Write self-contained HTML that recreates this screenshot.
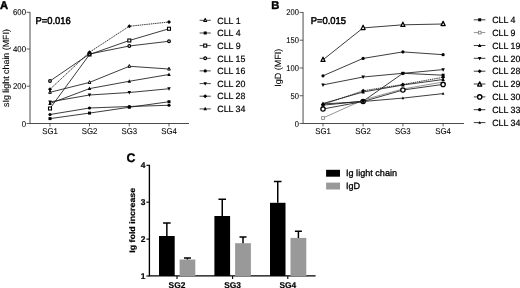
<!DOCTYPE html>
<html><head><meta charset="utf-8"><title>Figure</title>
<style>
html,body{margin:0;padding:0;background:#fff;}
body{width:520px;height:288px;overflow:hidden;font-family:"Liberation Sans",sans-serif;}
svg{display:block;}
</style></head><body>
<svg width="520" height="288" viewBox="0 0 520 288">
<defs><filter id="nf" x="0" y="0" width="520" height="288" filterUnits="userSpaceOnUse"><feOffset dx="0" dy="0"/></filter></defs>
<rect width="520" height="288" fill="#fff"/>
<g filter="url(#nf)" text-rendering="geometricPrecision">
<text x="0.0" y="8.5" font-family="Liberation Sans, sans-serif" font-size="11.2" text-anchor="start" font-weight="bold" stroke="#000" stroke-width="0.45" fill="#000">A</text>
<path d="M30.0 12 V123.5 H189" fill="none" stroke="#383838" stroke-width="0.9"/>
<path d="M26.6 12.3 H30.0" stroke="#383838" stroke-width="0.8"/>
<text x="26.0" y="15.3" font-family="Liberation Sans, sans-serif" font-size="8.4" text-anchor="end" stroke="#000" stroke-width="0.1" textLength="13.03" lengthAdjust="spacingAndGlyphs" fill="#000">600</text>
<path d="M26.6 49.0 H30.0" stroke="#383838" stroke-width="0.8"/>
<text x="26.0" y="52.0" font-family="Liberation Sans, sans-serif" font-size="8.4" text-anchor="end" stroke="#000" stroke-width="0.1" textLength="13.03" lengthAdjust="spacingAndGlyphs" fill="#000">400</text>
<path d="M26.6 86.2 H30.0" stroke="#383838" stroke-width="0.8"/>
<text x="26.0" y="89.2" font-family="Liberation Sans, sans-serif" font-size="8.4" text-anchor="end" stroke="#000" stroke-width="0.1" textLength="13.03" lengthAdjust="spacingAndGlyphs" fill="#000">200</text>
<path d="M26.6 123.5 H30.0" stroke="#383838" stroke-width="0.8"/>
<text x="26.0" y="126.5" font-family="Liberation Sans, sans-serif" font-size="8.4" text-anchor="end" stroke="#000" stroke-width="0.1" textLength="4.34" lengthAdjust="spacingAndGlyphs" fill="#000">0</text>
<path d="M50.0 123.5 V126.4" stroke="#383838" stroke-width="0.8"/>
<text x="50.0" y="134.2" font-family="Liberation Sans, sans-serif" font-size="8.4" text-anchor="middle" stroke="#000" stroke-width="0.1" textLength="15.6" lengthAdjust="spacingAndGlyphs" fill="#000">SG1</text>
<path d="M89.5 123.5 V126.4" stroke="#383838" stroke-width="0.8"/>
<text x="89.5" y="134.2" font-family="Liberation Sans, sans-serif" font-size="8.4" text-anchor="middle" stroke="#000" stroke-width="0.1" textLength="15.6" lengthAdjust="spacingAndGlyphs" fill="#000">SG2</text>
<path d="M129.3 123.5 V126.4" stroke="#383838" stroke-width="0.8"/>
<text x="129.3" y="134.2" font-family="Liberation Sans, sans-serif" font-size="8.4" text-anchor="middle" stroke="#000" stroke-width="0.1" textLength="15.6" lengthAdjust="spacingAndGlyphs" fill="#000">SG3</text>
<path d="M169.0 123.5 V126.4" stroke="#383838" stroke-width="0.8"/>
<text x="169.0" y="134.2" font-family="Liberation Sans, sans-serif" font-size="8.4" text-anchor="middle" stroke="#000" stroke-width="0.1" textLength="15.6" lengthAdjust="spacingAndGlyphs" fill="#000">SG4</text>
<text x="8.9" y="68.0" font-family="Liberation Sans, sans-serif" font-size="8.9" text-anchor="middle" stroke="#000" stroke-width="0.1" transform="rotate(-90 8.9 68.0)" fill="#000">sIg light chain (MFI)</text>
<text x="35.5" y="23.5" font-family="Liberation Sans, sans-serif" font-size="9.9" text-anchor="start" stroke="#000" stroke-width="0.5" textLength="35.2" lengthAdjust="spacingAndGlyphs" fill="#000">P=0.016</text>
<polyline points="50.00,92.30 89.50,82.40 129.30,66.25 169.00,69.00" fill="none" stroke="#1a1a1a" stroke-width="0.85"/>
<polyline points="50.00,118.60 89.50,113.10 129.30,107.25 169.00,101.75" fill="none" stroke="#1a1a1a" stroke-width="0.85"/>
<polyline points="50.00,108.50 89.50,54.50 129.30,40.50 169.00,28.75" fill="none" stroke="#1a1a1a" stroke-width="0.85"/>
<polyline points="50.00,81.00 89.50,54.00 129.30,46.00 169.00,41.25" fill="none" stroke="#1a1a1a" stroke-width="0.85"/>
<polyline points="50.00,114.50 89.50,108.00 129.30,106.50 169.00,105.25" fill="none" stroke="#1a1a1a" stroke-width="0.85"/>
<polyline points="50.00,101.90 89.50,95.00 129.30,92.50 169.00,88.75" fill="none" stroke="#1a1a1a" stroke-width="0.85"/>
<polyline points="50.00,89.30 89.50,52.20 129.30,26.25 169.00,22.00" fill="none" stroke="#1a1a1a" stroke-width="0.85" stroke-dasharray="1.5 0.7"/>
<polyline points="50.00,103.50 89.50,88.60 129.30,81.25 169.00,74.50" fill="none" stroke="#1a1a1a" stroke-width="0.85"/>
<path d="M50.00 90.57L51.33 93.37L48.67 93.37Z" fill="#fff" stroke="#000" stroke-width="1.00" stroke-linejoin="round"/>
<path d="M89.50 80.67L90.83 83.47L88.17 83.47Z" fill="#fff" stroke="#000" stroke-width="1.00" stroke-linejoin="round"/>
<path d="M129.30 64.52L130.63 67.32L127.97 67.32Z" fill="#fff" stroke="#000" stroke-width="1.00" stroke-linejoin="round"/>
<path d="M169.00 67.27L170.33 70.07L167.67 70.07Z" fill="#fff" stroke="#000" stroke-width="1.00" stroke-linejoin="round"/>
<rect x="48.50" y="117.10" width="3.00" height="3.00" fill="#000"/>
<rect x="88.00" y="111.60" width="3.00" height="3.00" fill="#000"/>
<rect x="127.80" y="105.75" width="3.00" height="3.00" fill="#000"/>
<rect x="167.50" y="100.25" width="3.00" height="3.00" fill="#000"/>
<rect x="48.50" y="107.00" width="3.00" height="3.00" fill="#fff" stroke="#000" stroke-width="1.1"/>
<rect x="88.00" y="53.00" width="3.00" height="3.00" fill="#fff" stroke="#000" stroke-width="1.1"/>
<rect x="127.80" y="39.00" width="3.00" height="3.00" fill="#fff" stroke="#000" stroke-width="1.1"/>
<rect x="167.50" y="27.25" width="3.00" height="3.00" fill="#fff" stroke="#000" stroke-width="1.1"/>
<circle cx="50.00" cy="81.00" r="1.35" fill="#fff" stroke="#000" stroke-width="1.2"/>
<circle cx="89.50" cy="54.00" r="1.35" fill="#fff" stroke="#000" stroke-width="1.2"/>
<circle cx="129.30" cy="46.00" r="1.35" fill="#fff" stroke="#000" stroke-width="1.2"/>
<circle cx="169.00" cy="41.25" r="1.35" fill="#fff" stroke="#000" stroke-width="1.2"/>
<circle cx="50.00" cy="114.50" r="1.60" fill="#000"/>
<circle cx="89.50" cy="108.00" r="1.60" fill="#000"/>
<circle cx="129.30" cy="106.50" r="1.60" fill="#000"/>
<circle cx="169.00" cy="105.25" r="1.60" fill="#000"/>
<path d="M50.00 104.00L51.75 100.50L48.25 100.50Z" fill="#000"/>
<path d="M89.50 97.10L91.25 93.60L87.75 93.60Z" fill="#000"/>
<path d="M129.30 94.60L131.05 91.10L127.55 91.10Z" fill="#000"/>
<path d="M169.00 90.85L170.75 87.35L167.25 87.35Z" fill="#000"/>
<path d="M50.00 87.30L52.00 89.30L50.00 91.30L48.00 89.30Z" fill="#000"/>
<path d="M89.50 50.20L91.50 52.20L89.50 54.20L87.50 52.20Z" fill="#000"/>
<path d="M129.30 24.25L131.30 26.25L129.30 28.25L127.30 26.25Z" fill="#000"/>
<path d="M169.00 20.00L171.00 22.00L169.00 24.00L167.00 22.00Z" fill="#000"/>
<path d="M50.00 101.40L51.75 104.90L48.25 104.90Z" fill="#000"/>
<path d="M89.50 86.50L91.25 90.00L87.75 90.00Z" fill="#000"/>
<path d="M129.30 79.15L131.05 82.65L127.55 82.65Z" fill="#000"/>
<path d="M169.00 72.40L170.75 75.90L167.25 75.90Z" fill="#000"/>
<path d="M199.6 20.3 H210.8" stroke="#1a1a1a" stroke-width="0.8"/>
<path d="M205.20 18.41L206.65 21.46L203.75 21.46Z" fill="#fff" stroke="#000" stroke-width="1.05" stroke-linejoin="round"/>
<text x="217.3" y="23.5" font-family="Liberation Sans, sans-serif" font-size="9.0" text-anchor="start" stroke="#000" stroke-width="0.2" textLength="23.29" lengthAdjust="spacingAndGlyphs" fill="#000">CLL 1</text>
<path d="M199.6 33.0 H210.8" stroke="#1a1a1a" stroke-width="0.8"/>
<rect x="203.70" y="31.50" width="3.00" height="3.00" fill="#000"/>
<text x="217.3" y="36.2" font-family="Liberation Sans, sans-serif" font-size="9.0" text-anchor="start" stroke="#000" stroke-width="0.2" textLength="23.29" lengthAdjust="spacingAndGlyphs" fill="#000">CLL 4</text>
<path d="M199.6 45.6 H210.8" stroke="#1a1a1a" stroke-width="0.8"/>
<rect x="203.70" y="44.10" width="3.00" height="3.00" fill="#fff" stroke="#000" stroke-width="1.1"/>
<text x="217.3" y="48.800000000000004" font-family="Liberation Sans, sans-serif" font-size="9.0" text-anchor="start" stroke="#000" stroke-width="0.2" textLength="23.29" lengthAdjust="spacingAndGlyphs" fill="#000">CLL 9</text>
<path d="M199.6 58.3 H210.8" stroke="#1a1a1a" stroke-width="0.8"/>
<circle cx="205.20" cy="58.30" r="1.35" fill="#fff" stroke="#000" stroke-width="1.2"/>
<text x="217.3" y="61.5" font-family="Liberation Sans, sans-serif" font-size="9.0" text-anchor="start" stroke="#000" stroke-width="0.2" textLength="28.15" lengthAdjust="spacingAndGlyphs" fill="#000">CLL 15</text>
<path d="M199.6 70.9 H210.8" stroke="#1a1a1a" stroke-width="0.8"/>
<circle cx="205.20" cy="70.90" r="1.60" fill="#000"/>
<text x="217.3" y="74.10000000000001" font-family="Liberation Sans, sans-serif" font-size="9.0" text-anchor="start" stroke="#000" stroke-width="0.2" textLength="28.15" lengthAdjust="spacingAndGlyphs" fill="#000">CLL 16</text>
<path d="M199.6 83.6 H210.8" stroke="#1a1a1a" stroke-width="0.8"/>
<path d="M205.20 85.70L206.95 82.20L203.45 82.20Z" fill="#000"/>
<text x="217.3" y="86.8" font-family="Liberation Sans, sans-serif" font-size="9.0" text-anchor="start" stroke="#000" stroke-width="0.2" textLength="28.15" lengthAdjust="spacingAndGlyphs" fill="#000">CLL 20</text>
<path d="M199.6 96.2 H210.8" stroke="#1a1a1a" stroke-width="0.8"/>
<path d="M205.20 94.20L207.20 96.20L205.20 98.20L203.20 96.20Z" fill="#000"/>
<text x="217.3" y="99.4" font-family="Liberation Sans, sans-serif" font-size="9.0" text-anchor="start" stroke="#000" stroke-width="0.2" textLength="28.15" lengthAdjust="spacingAndGlyphs" fill="#000">CLL 28</text>
<path d="M199.6 108.9 H210.8" stroke="#1a1a1a" stroke-width="0.8"/>
<path d="M205.20 106.80L206.95 110.30L203.45 110.30Z" fill="#000"/>
<text x="217.3" y="112.10000000000001" font-family="Liberation Sans, sans-serif" font-size="9.0" text-anchor="start" stroke="#000" stroke-width="0.2" textLength="28.15" lengthAdjust="spacingAndGlyphs" fill="#000">CLL 34</text>
<text x="271.3" y="8.6" font-family="Liberation Sans, sans-serif" font-size="11.2" text-anchor="start" font-weight="bold" stroke="#000" stroke-width="0.45" fill="#000">B</text>
<path d="M303.05 12 V123.5 H464" fill="none" stroke="#383838" stroke-width="0.9"/>
<path d="M299.6 12.44 H303.05" stroke="#383838" stroke-width="0.8"/>
<text x="298.9" y="15.439999999999998" font-family="Liberation Sans, sans-serif" font-size="8.4" text-anchor="end" stroke="#000" stroke-width="0.1" textLength="12.61" lengthAdjust="spacingAndGlyphs" fill="#000">200</text>
<path d="M299.6 40.20 H303.05" stroke="#383838" stroke-width="0.8"/>
<text x="298.9" y="43.205" font-family="Liberation Sans, sans-serif" font-size="8.4" text-anchor="end" stroke="#000" stroke-width="0.1" textLength="12.61" lengthAdjust="spacingAndGlyphs" fill="#000">150</text>
<path d="M299.6 67.97 H303.05" stroke="#383838" stroke-width="0.8"/>
<text x="298.9" y="70.97" font-family="Liberation Sans, sans-serif" font-size="8.4" text-anchor="end" stroke="#000" stroke-width="0.1" textLength="12.61" lengthAdjust="spacingAndGlyphs" fill="#000">100</text>
<path d="M299.6 95.73 H303.05" stroke="#383838" stroke-width="0.8"/>
<text x="298.9" y="98.735" font-family="Liberation Sans, sans-serif" font-size="8.4" text-anchor="end" stroke="#000" stroke-width="0.1" textLength="8.41" lengthAdjust="spacingAndGlyphs" fill="#000">50</text>
<path d="M299.6 123.50 H303.05" stroke="#383838" stroke-width="0.8"/>
<text x="298.9" y="126.5" font-family="Liberation Sans, sans-serif" font-size="8.4" text-anchor="end" stroke="#000" stroke-width="0.1" textLength="4.2" lengthAdjust="spacingAndGlyphs" fill="#000">0</text>
<path d="M323.0 123.5 V126.4" stroke="#383838" stroke-width="0.8"/>
<text x="323.0" y="134.3" font-family="Liberation Sans, sans-serif" font-size="8.4" text-anchor="middle" stroke="#000" stroke-width="0.1" textLength="15.6" lengthAdjust="spacingAndGlyphs" fill="#000">SG1</text>
<path d="M363.1 123.5 V126.4" stroke="#383838" stroke-width="0.8"/>
<text x="363.1" y="134.3" font-family="Liberation Sans, sans-serif" font-size="8.4" text-anchor="middle" stroke="#000" stroke-width="0.1" textLength="15.6" lengthAdjust="spacingAndGlyphs" fill="#000">SG2</text>
<path d="M402.9 123.5 V126.4" stroke="#383838" stroke-width="0.8"/>
<text x="402.9" y="134.3" font-family="Liberation Sans, sans-serif" font-size="8.4" text-anchor="middle" stroke="#000" stroke-width="0.1" textLength="15.6" lengthAdjust="spacingAndGlyphs" fill="#000">SG3</text>
<path d="M443.1 123.5 V126.4" stroke="#383838" stroke-width="0.8"/>
<text x="443.1" y="134.3" font-family="Liberation Sans, sans-serif" font-size="8.4" text-anchor="middle" stroke="#000" stroke-width="0.1" textLength="15.6" lengthAdjust="spacingAndGlyphs" fill="#000">SG4</text>
<text x="280.7" y="67.8" font-family="Liberation Sans, sans-serif" font-size="9" text-anchor="middle" stroke="#000" stroke-width="0.1" transform="rotate(-90 280.7 67.8)" fill="#000">IgD (MFI)</text>
<text x="310.7" y="23.5" font-family="Liberation Sans, sans-serif" font-size="9.9" text-anchor="start" stroke="#000" stroke-width="0.5" textLength="35.2" lengthAdjust="spacingAndGlyphs" fill="#000">P=0.015</text>
<polyline points="323.00,105.20 363.10,101.20 402.90,73.30 443.10,75.20" fill="none" stroke="#1a1a1a" stroke-width="0.85"/>
<polyline points="323.00,118.00 363.10,100.00 402.90,89.00 443.10,82.00" fill="none" stroke="#666" stroke-width="0.7"/>
<polyline points="323.00,103.50 363.10,92.00 402.90,85.00 443.10,79.50" fill="none" stroke="#1a1a1a" stroke-width="0.85"/>
<polyline points="323.00,84.90 363.10,77.00 402.90,73.30 443.10,69.60" fill="none" stroke="#1a1a1a" stroke-width="0.85"/>
<polyline points="323.00,104.50 363.10,90.80 402.90,84.50 443.10,77.30" fill="none" stroke="#1a1a1a" stroke-width="0.85" stroke-dasharray="1.5 0.7"/>
<polyline points="323.00,59.80 363.10,27.90 402.90,24.80 443.10,24.00" fill="none" stroke="#1a1a1a" stroke-width="0.85"/>
<polyline points="323.00,109.00 363.10,101.50 402.90,90.00 443.10,84.40" fill="none" stroke="#1a1a1a" stroke-width="0.85"/>
<polyline points="323.00,75.80 363.10,58.40 402.90,51.90 443.10,54.70" fill="none" stroke="#1a1a1a" stroke-width="0.85"/>
<polyline points="323.00,104.00 363.10,101.50 402.90,98.10 443.10,93.60" fill="none" stroke="#1a1a1a" stroke-width="0.85"/>
<circle cx="323.00" cy="109.00" r="2.15" fill="#fff" stroke="#000" stroke-width="1.3"/>
<circle cx="363.10" cy="101.50" r="2.15" fill="#fff" stroke="#000" stroke-width="1.3"/>
<circle cx="402.90" cy="90.00" r="2.15" fill="#fff" stroke="#000" stroke-width="1.3"/>
<circle cx="443.10" cy="84.40" r="2.15" fill="#fff" stroke="#000" stroke-width="1.3"/>
<rect x="321.50" y="103.70" width="3.00" height="3.00" fill="#000"/>
<rect x="361.60" y="99.70" width="3.00" height="3.00" fill="#000"/>
<rect x="401.40" y="71.80" width="3.00" height="3.00" fill="#000"/>
<rect x="441.60" y="73.70" width="3.00" height="3.00" fill="#000"/>
<rect x="321.65" y="116.65" width="2.70" height="2.70" fill="#fff" stroke="#777" stroke-width="0.8"/>
<path d="M323.00 101.40L324.75 104.90L321.25 104.90Z" fill="#000"/>
<path d="M363.10 89.90L364.85 93.40L361.35 93.40Z" fill="#000"/>
<path d="M402.90 82.90L404.65 86.40L401.15 86.40Z" fill="#000"/>
<path d="M443.10 77.40L444.85 80.90L441.35 80.90Z" fill="#000"/>
<path d="M323.00 87.00L324.75 83.50L321.25 83.50Z" fill="#000"/>
<path d="M363.10 79.10L364.85 75.60L361.35 75.60Z" fill="#000"/>
<path d="M402.90 75.40L404.65 71.90L401.15 71.90Z" fill="#000"/>
<path d="M443.10 71.70L444.85 68.20L441.35 68.20Z" fill="#000"/>
<path d="M323.00 102.50L325.00 104.50L323.00 106.50L321.00 104.50Z" fill="#000"/>
<path d="M363.10 88.80L365.10 90.80L363.10 92.80L361.10 90.80Z" fill="#000"/>
<path d="M402.90 82.50L404.90 84.50L402.90 86.50L400.90 84.50Z" fill="#000"/>
<path d="M443.10 75.30L445.10 77.30L443.10 79.30L441.10 77.30Z" fill="#000"/>
<path d="M323.00 57.16L325.03 61.42L320.97 61.42Z" fill="#fff" stroke="#000" stroke-width="1.28" stroke-linejoin="round"/>
<path d="M363.10 25.26L365.13 29.52L361.07 29.52Z" fill="#fff" stroke="#000" stroke-width="1.28" stroke-linejoin="round"/>
<path d="M402.90 22.16L404.93 26.42L400.87 26.42Z" fill="#fff" stroke="#000" stroke-width="1.28" stroke-linejoin="round"/>
<path d="M443.10 21.36L445.13 25.62L441.07 25.62Z" fill="#fff" stroke="#000" stroke-width="1.28" stroke-linejoin="round"/>
<circle cx="323.00" cy="75.80" r="1.60" fill="#000"/>
<circle cx="363.10" cy="58.40" r="1.60" fill="#000"/>
<circle cx="402.90" cy="51.90" r="1.60" fill="#000"/>
<circle cx="443.10" cy="54.70" r="1.60" fill="#000"/>
<path d="M323.00 102.38L324.35 105.08L321.65 105.08Z" fill="#000"/>
<path d="M363.10 99.88L364.45 102.58L361.75 102.58Z" fill="#000"/>
<path d="M402.90 96.48L404.25 99.18L401.55 99.18Z" fill="#000"/>
<path d="M443.10 91.98L444.45 94.68L441.75 94.68Z" fill="#000"/>
<path d="M473.8 19.8 H485.4" stroke="#1a1a1a" stroke-width="0.85"/>
<rect x="478.20" y="18.30" width="3.00" height="3.00" fill="#000"/>
<text x="492.2" y="23.0" font-family="Liberation Sans, sans-serif" font-size="9.0" text-anchor="start" stroke="#000" stroke-width="0.2" textLength="23.29" lengthAdjust="spacingAndGlyphs" fill="#000">CLL 4</text>
<path d="M473.8 32.6 H485.4" stroke="#666" stroke-width="0.7"/>
<rect x="478.35" y="31.25" width="2.70" height="2.70" fill="#fff" stroke="#777" stroke-width="0.8"/>
<text x="492.2" y="35.800000000000004" font-family="Liberation Sans, sans-serif" font-size="9.0" text-anchor="start" stroke="#000" stroke-width="0.2" textLength="23.29" lengthAdjust="spacingAndGlyphs" fill="#000">CLL 9</text>
<path d="M473.8 45.5 H485.4" stroke="#1a1a1a" stroke-width="0.85"/>
<path d="M479.70 43.40L481.45 46.90L477.95 46.90Z" fill="#000"/>
<text x="492.2" y="48.7" font-family="Liberation Sans, sans-serif" font-size="9.0" text-anchor="start" stroke="#000" stroke-width="0.2" textLength="28.15" lengthAdjust="spacingAndGlyphs" fill="#000">CLL 19</text>
<path d="M473.8 58.3 H485.4" stroke="#1a1a1a" stroke-width="0.85"/>
<path d="M479.70 60.40L481.45 56.90L477.95 56.90Z" fill="#000"/>
<text x="492.2" y="61.5" font-family="Liberation Sans, sans-serif" font-size="9.0" text-anchor="start" stroke="#000" stroke-width="0.2" textLength="28.15" lengthAdjust="spacingAndGlyphs" fill="#000">CLL 20</text>
<path d="M473.8 71.2 H485.4" stroke="#1a1a1a" stroke-width="0.85"/>
<path d="M479.70 69.20L481.70 71.20L479.70 73.20L477.70 71.20Z" fill="#000"/>
<text x="492.2" y="74.4" font-family="Liberation Sans, sans-serif" font-size="9.0" text-anchor="start" stroke="#000" stroke-width="0.2" textLength="28.15" lengthAdjust="spacingAndGlyphs" fill="#000">CLL 28</text>
<path d="M473.8 84.0 H485.4" stroke="#1a1a1a" stroke-width="0.85"/>
<path d="M479.70 81.86L481.73 86.12L477.67 86.12Z" fill="#fff" stroke="#000" stroke-width="1.28" stroke-linejoin="round"/>
<text x="492.2" y="87.2" font-family="Liberation Sans, sans-serif" font-size="9.0" text-anchor="start" stroke="#000" stroke-width="0.2" textLength="28.15" lengthAdjust="spacingAndGlyphs" fill="#000">CLL 29</text>
<path d="M473.8 96.9 H485.4" stroke="#1a1a1a" stroke-width="0.85"/>
<circle cx="479.70" cy="96.90" r="2.15" fill="#fff" stroke="#000" stroke-width="1.3"/>
<text x="492.2" y="100.10000000000001" font-family="Liberation Sans, sans-serif" font-size="9.0" text-anchor="start" stroke="#000" stroke-width="0.2" textLength="28.15" lengthAdjust="spacingAndGlyphs" fill="#000">CLL 30</text>
<path d="M473.8 109.7 H485.4" stroke="#1a1a1a" stroke-width="0.85"/>
<circle cx="479.70" cy="109.70" r="1.60" fill="#000"/>
<text x="492.2" y="112.9" font-family="Liberation Sans, sans-serif" font-size="9.0" text-anchor="start" stroke="#000" stroke-width="0.2" textLength="28.15" lengthAdjust="spacingAndGlyphs" fill="#000">CLL 33</text>
<path d="M473.8 122.6 H485.4" stroke="#1a1a1a" stroke-width="0.85"/>
<path d="M479.70 120.98L481.05 123.68L478.35 123.68Z" fill="#000"/>
<text x="492.2" y="125.8" font-family="Liberation Sans, sans-serif" font-size="9.0" text-anchor="start" stroke="#000" stroke-width="0.2" textLength="28.15" lengthAdjust="spacingAndGlyphs" fill="#000">CLL 34</text>
<text x="126.6" y="162.0" font-family="Liberation Sans, sans-serif" font-size="12.4" text-anchor="start" font-weight="bold" stroke="#000" stroke-width="0.3" fill="#000">C</text>
<path d="M149.4 164.7 V275.8 H315.6" fill="none" stroke="#000" stroke-width="1.35"/>
<path d="M146.4 165.30 H149.4" stroke="#000" stroke-width="1.1"/>
<text x="145.3" y="168.25" font-family="Liberation Sans, sans-serif" font-size="8.4" text-anchor="end" font-weight="bold" stroke="#000" stroke-width="0.2" fill="#000">4</text>
<path d="M146.4 202.20 H149.4" stroke="#000" stroke-width="1.1"/>
<text x="145.3" y="205.14999999999998" font-family="Liberation Sans, sans-serif" font-size="8.4" text-anchor="end" font-weight="bold" stroke="#000" stroke-width="0.2" fill="#000">3</text>
<path d="M146.4 239.10 H149.4" stroke="#000" stroke-width="1.1"/>
<text x="145.3" y="242.04999999999998" font-family="Liberation Sans, sans-serif" font-size="8.4" text-anchor="end" font-weight="bold" stroke="#000" stroke-width="0.2" fill="#000">2</text>
<path d="M146.4 276.00 H149.4" stroke="#000" stroke-width="1.1"/>
<text x="145.3" y="278.95" font-family="Liberation Sans, sans-serif" font-size="8.4" text-anchor="end" font-weight="bold" stroke="#000" stroke-width="0.2" fill="#000">1</text>
<rect x="159.0" y="236.0" width="15.70" height="40.00" fill="#000"/>
<rect x="179.6" y="259.5" width="15.70" height="16.50" fill="#999"/>
<path d="M166.85 236.0 V222.9 M163.05 222.9 H170.65" stroke="#000" stroke-width="1.5" fill="none"/>
<path d="M187.45 259.5 V258.0 M183.95 258.0 H190.95" stroke="#000" stroke-width="1.5" fill="none"/>
<path d="M177.0 276.0 V279" stroke="#000" stroke-width="1.1"/>
<text x="177.0" y="288" font-family="Liberation Sans, sans-serif" font-size="8.4" text-anchor="middle" font-weight="bold" stroke="#000" stroke-width="0.2" fill="#000">SG2</text>
<rect x="214.4" y="216.0" width="15.70" height="60.00" fill="#000"/>
<rect x="235.1" y="243.2" width="15.80" height="32.80" fill="#999"/>
<path d="M222.25 216.0 V199.2 M218.45 199.2 H226.05" stroke="#000" stroke-width="1.5" fill="none"/>
<path d="M243.00 243.2 V237.0 M239.50 237.0 H246.50" stroke="#000" stroke-width="1.5" fill="none"/>
<path d="M232.6 276.0 V279" stroke="#000" stroke-width="1.1"/>
<text x="232.6" y="288" font-family="Liberation Sans, sans-serif" font-size="8.4" text-anchor="middle" font-weight="bold" stroke="#000" stroke-width="0.2" fill="#000">SG3</text>
<rect x="270.0" y="202.8" width="15.50" height="73.20" fill="#000"/>
<rect x="290.5" y="237.9" width="15.80" height="38.10" fill="#999"/>
<path d="M277.75 202.8 V181.6 M273.95 181.6 H281.55" stroke="#000" stroke-width="1.5" fill="none"/>
<path d="M298.40 237.9 V231.2 M294.90 231.2 H301.90" stroke="#000" stroke-width="1.5" fill="none"/>
<path d="M287.8 276.0 V279" stroke="#000" stroke-width="1.1"/>
<text x="287.8" y="288" font-family="Liberation Sans, sans-serif" font-size="8.4" text-anchor="middle" font-weight="bold" stroke="#000" stroke-width="0.2" fill="#000">SG4</text>
<text x="134.7" y="220.3" font-family="Liberation Sans, sans-serif" font-size="8.0" text-anchor="middle" font-weight="bold" stroke="#000" stroke-width="0.2" textLength="65.0" lengthAdjust="spacingAndGlyphs" transform="rotate(-90 134.7 220.3)" fill="#000">Ig fold increase</text>
<rect x="326.1" y="169.8" width="13.9" height="6.9" fill="#000"/>
<rect x="326.1" y="182.6" width="13.9" height="6.9" fill="#999"/>
<text x="346" y="175.8" font-family="Liberation Sans, sans-serif" font-size="9.1" text-anchor="start" stroke="#000" stroke-width="0.3" fill="#000">Ig light chain</text>
<text x="346" y="188.7" font-family="Liberation Sans, sans-serif" font-size="9.1" text-anchor="start" stroke="#000" stroke-width="0.3" fill="#000">IgD</text>
</g>
</svg>
</body></html>
